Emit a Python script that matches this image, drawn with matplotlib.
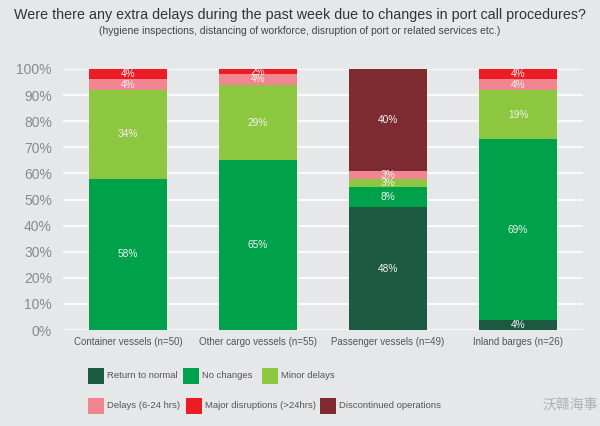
import matplotlib
matplotlib.use("Agg")
import matplotlib.pyplot as plt
from matplotlib.patches import Rectangle
import numpy as np

plt.rcParams['font.family'] = ['Liberation Sans', 'Noto Sans CJK SC', 'DejaVu Sans']

categories = ["Container vessels (n=50)", "Other cargo vessels (n=55)",
              "Passenger vessels (n=49)", "Inland barges (n=26)"]
series_names = ["Return to normal", "No changes", "Minor delays",
                "Delays (6-24 hrs)", "Major disruptions (>24hrs)", "Discontinued operations"]
return_to_normal = [0, 0, 48, 4]
no_changes = [58, 65, 8, 69]
minor_delays = [34, 29, 3, 19]
delays_6_24 = [4, 4, 3, 4]
major_disruptions = [4, 2, 0, 4]
discontinued = [0, 0, 40, 0]
yticks = [0, 10, 20, 30, 40, 50, 60, 70, 80, 90, 100]

colors = ["#1b5a41", "#00a14b", "#8dc63f", "#f28690", "#ec1c24", "#7d2b31"]
bg = "#e6e7e8"

series = [return_to_normal, no_changes, minor_delays, delays_6_24, major_disruptions, discontinued]
data = np.array(series, dtype=float)
totals = data.sum(axis=0)
norm = data / totals * 100

fig = plt.figure(figsize=(6, 4.26), dpi=100, facecolor=bg)
ax = fig.add_axes([63/600, (426-330)/426, (583-63)/600, (330-69)/426])
ax.set_facecolor(bg)

x = np.arange(len(categories))
bottom = np.zeros(len(categories))
for i, name in enumerate(series_names):
    ax.bar(x, norm[i], 0.6, bottom=bottom, color=colors[i], zorder=3, linewidth=0)
    for j in range(len(categories)):
        if data[i, j] > 0:
            ax.text(x[j], bottom[j] + norm[i, j] / 2, f"{int(data[i, j])}%",
                    ha='center', va='center', fontsize=7.3, color='#f2f2f2', zorder=4)
    bottom += norm[i]

ax.set_xlim(-0.5, 3.5)
ax.set_ylim(0, 100)
ax.set_yticks(yticks)
ax.set_yticklabels([f"{t}%" for t in yticks], fontsize=10, color='#8a8a8a')
ax.set_xticks(x)
ax.set_xticklabels(categories, fontsize=7, color='#555555')
ax.tick_params(length=0, pad=8)
ax.tick_params(axis='x', pad=5)
ax.grid(axis='y', color='white', linewidth=1.2, zorder=0)
for s in ax.spines.values():
    s.set_visible(False)

fig.text(0.5, 1 - 15/426, "Were there any extra delays during the past week due to changes in port call procedures?",
         ha='center', va='center', fontsize=10.3, color='#333333')
fig.text(0.5, 1 - 31/426, "(hygiene inspections, distancing of workforce, disruption of port or related services etc.)",
         ha='center', va='center', fontsize=7.5, color='#444444')

# legend
leg_pos = [(88, 376), (183, 376), (262, 376), (88, 406), (186, 406), (320, 406)]
for (px, py), name, c in zip(leg_pos, series_names, colors):
    fig.add_artist(Rectangle((px/600, 1 - (py + 8)/426), 16/600, 16/426,
                             transform=fig.transFigure, facecolor=c, edgecolor='none'))
    fig.text((px + 19)/600, 1 - py/426, name, ha='left', va='center', fontsize=6.8, color='#555555')

fig.text(570/600, 1 - 405/426, "沃赣海事", ha='center', va='center', fontsize=10, color='#b0b0b0')

fig.savefig("out.png", dpi=100, facecolor=bg)
